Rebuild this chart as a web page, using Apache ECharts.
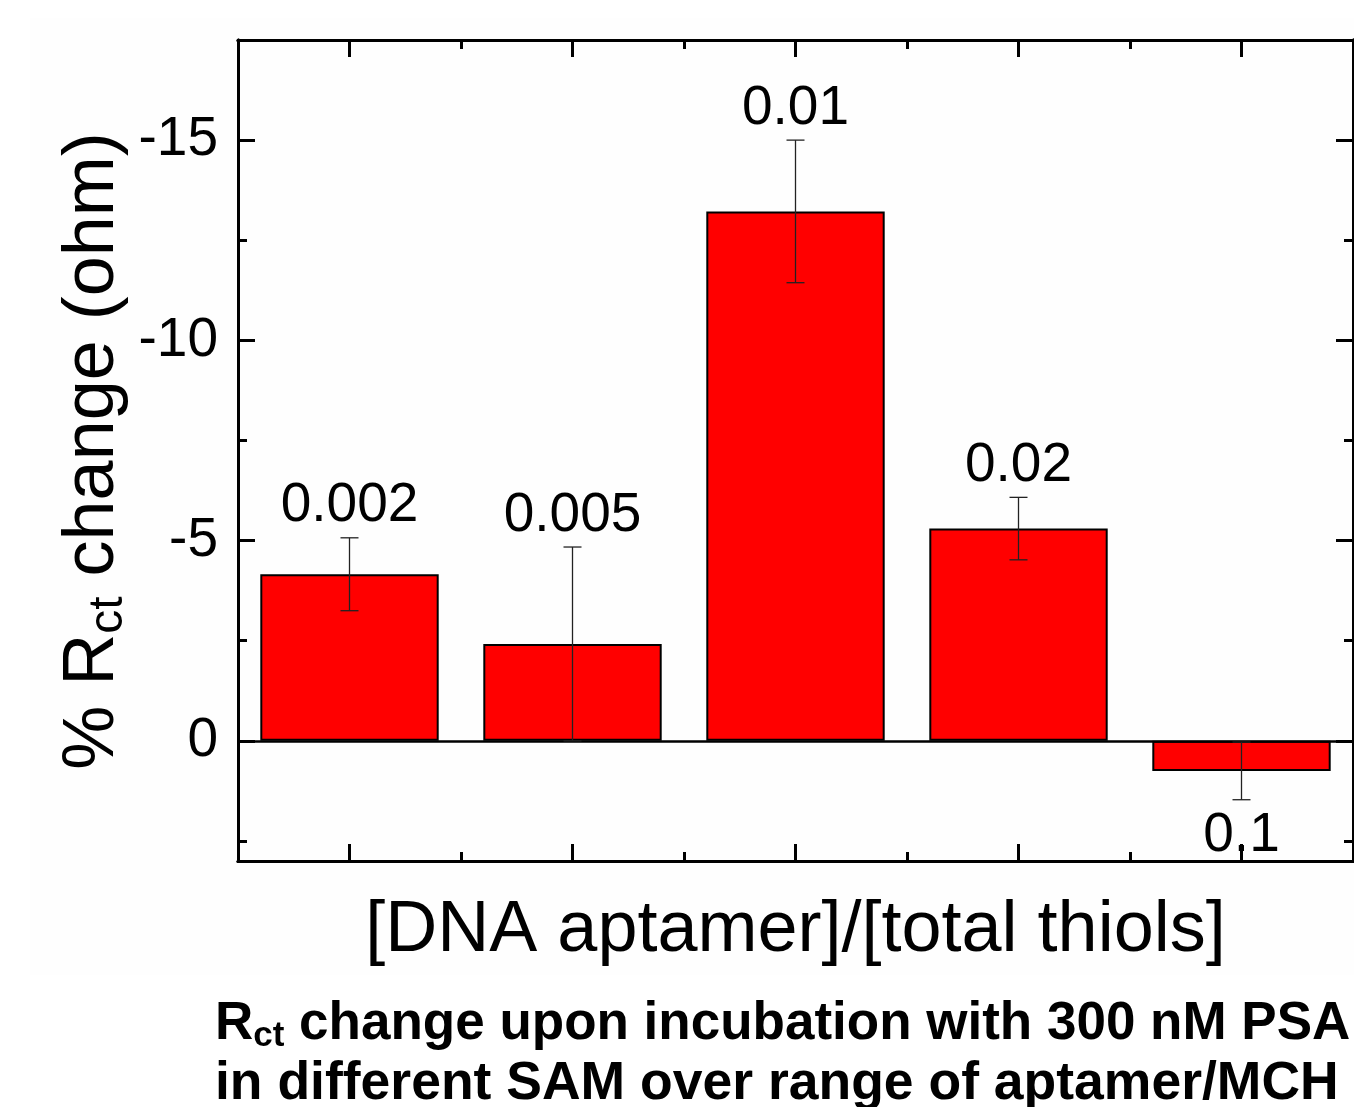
<!DOCTYPE html>
<html><head><meta charset="utf-8">
<script src="https://cdn.jsdelivr.net/npm/echarts@6/dist/echarts.min.js"></script>
<style>html,body{margin:0;padding:0;background:#fff}#c{width:1354px;height:1107px}</style>
</head><body><div id="c"></div>
<script>
// ---- data ----
const categories = ['0.002', '0.005', '0.01', '0.02', '0.1'];
const rctChange = [-4.16, -2.42, -13.22, -5.30, 0.75];
const rctError = [0.91, 2.42, 1.78, 0.78, 0.72];
const yMajorTicks = [-15, -10, -5, 0];
const yMinorTicks = [-17.5, -12.5, -7.5, -2.5, 2.5];
const xTitle = '[DNA aptamer]/[total thiols]';
const captionLine1 = ['R', 'ct', ' change upon incubation with 300 nM PSA'];
const captionLine2 = 'in different SAM over range of aptamer/MCH';

const FONT = '"Liberation Sans", Arial, Helvetica, sans-serif';
const chart = echarts.init(document.getElementById('c'), null, {renderer: 'canvas'});

const axisLine = {show: true, onZero: false, lineStyle: {color: '#000', width: 3}};
function yAxisDef(pos, ticks, len, showLabels) {
  return {
    type: 'value', position: pos, inverse: true, min: -17.5, max: 3,
    axisLine: axisLine, splitLine: {show: false},
    axisTick: {show: true, inside: true, length: len, lineStyle: {color: '#000', width: 3}, customValues: ticks},
    axisLabel: showLabels ? {show: true, customValues: yMajorTicks, fontSize: 55, color: '#000', fontFamily: FONT, margin: 20,
      formatter: v => String(v)} : {show: false}
  };
}
function xAxisDef(pos, center, len, extra) {
  return Object.assign({
    type: 'category', position: pos, data: categories, boundaryGap: true,
    axisLine: axisLine, splitLine: {show: false},
    axisTick: {show: true, inside: true, alignWithLabel: center, interval: 0, length: len, lineStyle: {color: '#000', width: 3}},
    axisLabel: {show: false}
  }, extra || {});
}

const errData = categories.map((c, i) => [i, rctChange[i], rctError[i]]);

const option = {
  backgroundColor: '#ffffff',
  animation: false,
  grid: {left: 238, right: 1, top: 40, bottom: 246, containLabel: false, outerBoundsMode: 'none'},
  xAxis: [
    xAxisDef('bottom', true, 17, {
      name: xTitle, nameLocation: 'middle', nameGap: 34,
      nameTextStyle: {fontSize: 72, lineHeight: 72, color: '#000', fontFamily: FONT}
    }),
    xAxisDef('bottom', false, 9),
    xAxisDef('top', true, 17),
    xAxisDef('top', false, 9)
  ],
  yAxis: [
    yAxisDef('left', yMajorTicks, 17, true),
    yAxisDef('left', yMinorTicks, 9, false),
    yAxisDef('right', yMajorTicks, 17, false),
    yAxisDef('right', yMinorTicks, 9, false)
  ],
  graphic: [
    {type: 'rect', x: 30, y: 18, shape: {width: 1324, height: 957}, style: {fill: '#fefefe'}, z: -10, silent: true},
    {type: 'text', x: 93, y: 451, rotation: Math.PI / 2, silent: true,
      style: {
        text: '{a|% R}{s|ct}{a| change (ohm)}', align: 'center', verticalAlign: 'middle',
        rich: {
          a: {fontSize: 72, lineHeight: 80, fontFamily: FONT, fill: '#000'},
          s: {fontSize: 48, lineHeight: 19, verticalAlign: 'bottom', fontFamily: FONT, fill: '#000'}
        }
      }},
    {type: 'text', x: 215, y: 994, silent: true,
      style: {
        text: '{b|' + captionLine1[0] + '}{s|' + captionLine1[1] + '}{b|' + captionLine1[2] + '}',
        align: 'left', verticalAlign: 'top',
        rich: {
          b: {fontSize: 53, lineHeight: 60, fontWeight: 'bold', fontFamily: FONT, fill: '#000'},
          s: {fontSize: 35, lineHeight: 22, verticalAlign: 'bottom', fontWeight: 'bold', fontFamily: FONT, fill: '#000'}
        }
      }},
    {type: 'text', x: 215, y: 1054, silent: true,
      style: {text: captionLine2, align: 'left', verticalAlign: 'top', fontSize: 53.5, lineHeight: 60,
        fontWeight: 'bold', fontFamily: FONT, fill: '#000'}}
  ],
  series: [
    {
      type: 'bar', xAxisIndex: 0, yAxisIndex: 0, data: rctChange, barWidth: '80%',
      itemStyle: {color: '#ff0000', borderColor: '#000', borderWidth: 2},
      markLine: {
        silent: true, symbol: ['none', 'none'], label: {show: false},
        lineStyle: {color: '#000', width: 2.5, type: 'solid'},
        data: [{yAxis: 0}]
      },
      z: 2
    },
    {
      type: 'custom', xAxisIndex: 0, yAxisIndex: 0, data: errData, z: 5,
      encode: {x: 0, y: 1},
      renderItem: function (params, api) {
        const i = api.value(0), m = api.value(1), e = api.value(2);
        const lo = api.coord([i, m - e]);
        const hi = api.coord([i, m + e]);
        const cap = 9;
        const ls = {stroke: '#222', lineWidth: 1.3};
        const up = m < 0;
        const end = up ? lo : hi;
        return {
          type: 'group', children: [
            {type: 'line', shape: {x1: lo[0], y1: lo[1], x2: hi[0], y2: hi[1]}, style: ls},
            {type: 'line', shape: {x1: lo[0] - cap, y1: lo[1], x2: lo[0] + cap, y2: lo[1]}, style: ls},
            {type: 'line', shape: {x1: hi[0] - cap, y1: hi[1], x2: hi[0] + cap, y2: hi[1]}, style: ls},
            {type: 'text', style: {
              text: categories[params.dataIndex], x: end[0], y: up ? end[1] - 4 : end[1] + 9,
              align: 'center', verticalAlign: up ? 'bottom' : 'top',
              fontSize: 55, lineHeight: 55, fontFamily: FONT, fill: '#000'}}
          ]
        };
      }
    }
  ]
};
chart.setOption(option);
</script></body></html>
